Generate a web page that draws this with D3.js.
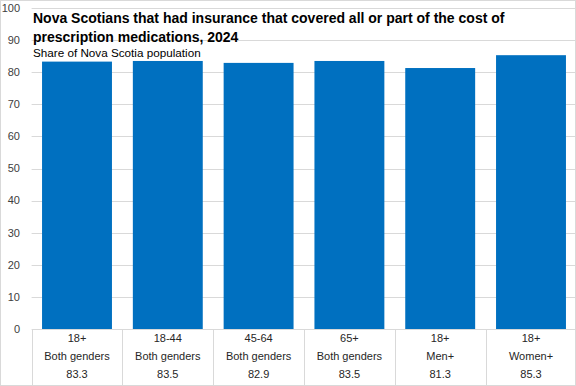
<!DOCTYPE html>
<html>
<head>
<meta charset="utf-8">
<script src="https://cdn.jsdelivr.net/npm/d3@7"></script>
<style>
  body { margin: 0; background: #fff; }
  svg { display: block; font-family: "Liberation Sans", Arial, sans-serif; }
</style>
</head>
<body>
<div id="chart"></div>
<script>
// chart values
const ageGroups = ["18+", "18-44", "45-64", "65+", "18+", "18+"];
const genders = ["Both genders", "Both genders", "Both genders", "Both genders", "Men+", "Women+"];
const shares = [83.3, 83.5, 82.9, 83.5, 81.3, 85.3];
const yTicks = [0, 10, 20, 30, 40, 50, 60, 70, 80, 90, 100];

const width = 576, height = 386;
const plotLeft = 31.6, plotRight = 576.4, plotTop = 8, plotBottom = 329;

let svg = d3.select("#chart")
    .append("svg")
    .attr("width", width)
    .attr("height", height);

// outer frame
svg.append("rect")
    .attr("x", 0.5).attr("y", 0.5)
    .attr("width", width - 1).attr("height", height - 1)
    .attr("fill", "none")
    .attr("stroke", "#d9d9d9");

let idx = shares.map((d, i) => i);

let x = d3.scaleBand()
    .domain(idx)
    .range([plotLeft, plotRight])
    .paddingInner(0.23)
    .paddingOuter(0.115);

let y = d3.scaleLinear()
    .domain([0, 100])
    .range([plotBottom, plotTop]);

// gridlines
svg.append("g")
    .selectAll("line")
    .data(yTicks.filter(d => d > 0))
    .enter()
    .append("line")
    .attr("x1", plotLeft)
    .attr("x2", width)
    .attr("y1", d => Math.round(y(d)) + 0.5)
    .attr("y2", d => Math.round(y(d)) + 0.5)
    .attr("stroke", "#d9d9d9");

// y labels
svg.append("g")
    .selectAll("text")
    .data(yTicks)
    .enter()
    .append("text")
    .attr("x", 20)
    .attr("y", d => y(d))
    .attr("dy", "0.35em")
    .style("text-anchor", "end")
    .style("font-size", "11px")
    .attr("fill", "#404040")
    .text(d => d);

// bars
svg.append("g")
    .selectAll("rect")
    .data(shares)
    .enter()
    .append("rect")
    .attr("x", (d, i) => x(i))
    .attr("y", d => y(d))
    .attr("width", x.bandwidth())
    .attr("height", d => y(0) - y(d))
    .attr("fill", "#0070c0");

// category table under the axis
let step = x.step();
let bounds = idx.map(i => x(i) - x.paddingInner() * step / 2).concat([plotRight]);

svg.append("line")
    .attr("x1", plotLeft).attr("x2", width)
    .attr("y1", plotBottom + 0.5).attr("y2", plotBottom + 0.5)
    .attr("stroke", "#d9d9d9");

svg.append("g")
    .selectAll("line")
    .data(bounds)
    .enter()
    .append("line")
    .attr("x1", d => Math.round(d) + 0.5)
    .attr("x2", d => Math.round(d) + 0.5)
    .attr("y1", plotBottom)
    .attr("y2", height)
    .attr("stroke", "#d9d9d9");

let rows = [ageGroups, genders, shares.map(d => d.toFixed(1))];
rows.forEach(function(row, r) {
    svg.append("g")
        .selectAll("text")
        .data(row)
        .enter()
        .append("text")
        .attr("x", (d, i) => x(i) + x.bandwidth() / 2)
        .attr("y", 338 + r * 18)
        .attr("dy", "0.35em")
        .style("text-anchor", "middle")
        .style("font-size", "11px")
        .attr("fill", "#262626")
        .text(d => d);
});

// titles
svg.append("text")
    .attr("x", 33).attr("y", 22.5)
    .style("font-size", "14px")
    .style("font-weight", "bold")
    .attr("fill", "#000")
    .text("Nova Scotians that had insurance that covered all or part of the cost of");

svg.append("text")
    .attr("x", 33).attr("y", 41.5)
    .style("font-size", "14px")
    .style("font-weight", "bold")
    .attr("fill", "#000")
    .text("prescription medications, 2024");

svg.append("text")
    .attr("x", 33).attr("y", 57)
    .style("font-size", "11.7px")
    .attr("fill", "#000")
    .text("Share of Nova Scotia population");
</script>
</body>
</html>
